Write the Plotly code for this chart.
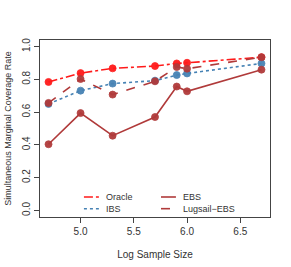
import plotly.graph_objects as go

log_n = [4.699, 5.0, 5.301, 5.699, 5.903, 6.0, 6.699]
oracle = [0.784, 0.838, 0.867, 0.881, 0.897, 0.901, 0.935]
ibs = [0.650, 0.731, 0.774, 0.792, 0.826, 0.836, 0.897]
ebs = [0.404, 0.594, 0.456, 0.570, 0.756, 0.727, 0.859]
lugsail = [0.656, 0.802, 0.707, 0.788, 0.875, 0.865, 0.935]

RED = "#FF1A1A"
BLUE = "#4682B4"
DARK = "#B03A3A"

series = [
    ("Oracle", oracle, RED, "dashdot"),
    ("IBS", ibs, BLUE, "dot"),
    ("EBS", ebs, DARK, "solid"),
    ("Lugsail\u2212EBS", lugsail, DARK, "dash"),
]
# legend slot for each series: (column x in paper, row y in paper)
legend_slots = [(0.191, 0.113), (0.191, 0.047), (0.526, 0.113), (0.526, 0.047)]

fig = go.Figure()
for name, vals, col, dash in series:
    fig.add_trace(go.Scatter(
        x=log_n, y=vals, mode="lines+markers", showlegend=False, name=name,
        line=dict(color=col, width=1.6, dash=dash),
        marker=dict(color=col, size=7, line=dict(color=col, width=0.8), opacity=0.95),
    ))

for (name, vals, col, dash), (lx, ly) in zip(series, legend_slots):
    fig.add_shape(type="line", xref="paper", yref="paper",
                  x0=lx, x1=lx + 0.065, y0=ly, y1=ly,
                  line=dict(color=col, width=1.6, dash=dash))
    fig.add_annotation(xref="paper", yref="paper", x=lx + 0.09, y=ly,
                       text=name, showarrow=False, xanchor="left", yanchor="middle",
                       font=dict(size=9, color="#333"), borderpad=0)

axis_common = dict(
    showgrid=False, zeroline=False, showline=True, mirror=True,
    linecolor="#444", linewidth=1, ticks="outside", ticklen=5,
    tickcolor="#444", tickfont=dict(size=10, color="#333"), automargin=False,
)
fig.update_layout(
    width=291, height=267,
    margin=dict(l=40, r=21, t=40, b=50),
    paper_bgcolor="white", plot_bgcolor="white",
    font=dict(family="Liberation Sans, Arial, sans-serif", color="#333"),
    showlegend=False,
    xaxis=dict(range=[4.619, 6.779], tickvals=[5.0, 5.5, 6.0, 6.5],
               ticktext=["5.0", "5.5", "6.0", "6.5"],
               title=dict(text="Log Sample Size", font=dict(size=10), standoff=14),
               **axis_common),
    yaxis=dict(range=[-0.04, 1.04], tickvals=[0, 0.2, 0.4, 0.6, 0.8, 1.0],
               ticktext=["0.0", "0.2", "0.4", "0.6", "0.8", "1.0"], tickangle=-90,
               title=dict(text="Simultaneous Marginal Coverage Rate", font=dict(size=9), standoff=7),
               **axis_common),
)
fig.write_html("out.html", post_script="document.body.style.margin='0';",
               config={"displayModeBar": False})
